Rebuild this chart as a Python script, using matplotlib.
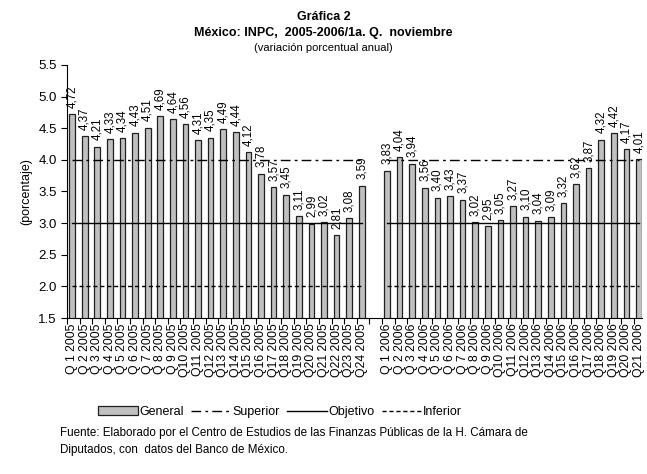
import numpy as np
import matplotlib
matplotlib.use("Agg")
import matplotlib.pyplot as plt
from matplotlib.patches import Patch
from matplotlib.lines import Line2D

plt.rcParams['font.family'] = ['Liberation Sans', 'DejaVu Sans']

# datos (variacion porcentual anual del INPC por quincena)
general_2005 = [4.72, 4.37, 4.21, 4.33, 4.34, 4.43, 4.51, 4.69, 4.64, 4.56, 4.31, 4.35,
                4.49, 4.44, 4.12, 3.78, 3.57, 3.45, 3.11, 2.99, 3.02, 2.81, 3.08, 3.59]
general_2006 = [3.83, 4.04, 3.94, 3.56, 3.40, 3.43, 3.37, 3.02, 2.95, 3.05, 3.27, 3.10,
                3.04, 3.09, 3.32, 3.62, 3.87, 4.32, 4.42, 4.17, 4.01]
superior = 4.0
objetivo = 3.0
inferior = 2.0

def qlabel(q, year):
    if q < 10:
        return "Q %d %d" % (q, year)
    return "Q%d %d" % (q, year)

labels = [qlabel(i + 1, 2005) for i in range(len(general_2005))] + [""] + \
         [qlabel(i + 1, 2006) for i in range(len(general_2006))]
values = general_2005 + [np.nan] + general_2006
x = np.arange(len(values))

fig = plt.figure(figsize=(6.47, 4.74), dpi=100)
ax = fig.add_axes([0.1036, 0.329, 0.888, 0.534])

ax.bar(x, values, width=0.45, color="#c0c0c0", edgecolor="#202020", linewidth=0.9, zorder=2)

# lineas de referencia, cortadas en el hueco entre 2005 y 2006
def ref_line(v):
    return [v] * len(general_2005) + [np.nan] + [v] * len(general_2006)

ax.plot(x, ref_line(superior), color="black", lw=1.0, linestyle=(0, (7, 3, 2, 3)), zorder=3)
ax.plot(x, ref_line(objetivo), color="black", lw=1.0, linestyle="-", zorder=3)
ax.plot(x, ref_line(inferior), color="black", lw=1.0, linestyle=(0, (3, 2)), zorder=3)

for xi, v in zip(x, values):
    if np.isnan(v):
        continue
    ax.text(xi, v + 0.1, ("%.2f" % v).replace(".", ","), rotation=90,
            ha="center", va="bottom", fontsize=8.3)

ax.set_xlim(-0.4, 45.2)
ax.set_ylim(1.5, 5.5)
ax.set_yticks(np.arange(1.5, 5.51, 0.5))
ax.set_yticklabels(["%.1f" % t for t in np.arange(1.5, 5.51, 0.5)], fontsize=9.5)
ax.set_xticks(x)
ax.set_xticklabels(labels, rotation=90, fontsize=8.8)
ax.tick_params(axis="x", length=0, pad=4)
ax.set_xticks(x - 0.4, minor=True)
ax.tick_params(axis="x", which="minor", length=4, width=0.8)
ax.tick_params(axis="y", length=4, width=0.8)
ax.spines["top"].set_visible(False)
ax.spines["right"].set_visible(False)
ax.set_ylabel("(porcentaje)", fontsize=9)

fig.text(0.5, 0.965, "Gráfica 2", ha="center", va="center", fontsize=9, fontweight="bold")
fig.text(0.5, 0.931, "México: INPC,  2005-2006/1a. Q.  noviembre", ha="center", va="center",
         fontsize=9, fontweight="bold")
fig.text(0.5, 0.899, "(variación porcentual anual)", ha="center", va="center", fontsize=8)

handles = [Patch(facecolor="#c0c0c0", edgecolor="#202020", linewidth=0.9),
           Line2D([], [], color="black", lw=1.0, linestyle=(0, (7, 3, 2, 3))),
           Line2D([], [], color="black", lw=1.0),
           Line2D([], [], color="black", lw=1.0, linestyle=(0, (3, 2)))]
fig.legend(handles, ["General", "Superior", "Objetivo", "Inferior"], ncol=4,
           loc="center", bbox_to_anchor=(280 / 647, 1 - 412 / 474), frameon=False,
           fontsize=9, handlelength=3.2, handletextpad=0.1, columnspacing=0.6,
           handleheight=0.7)

fig.text(60 / 647, 1 - 433 / 474,
         "Fuente: Elaborado por el Centro de Estudios de las Finanzas Públicas de la H. Cámara de",
         ha="left", va="center", fontsize=8.4)
fig.text(60 / 647, 1 - 450 / 474, "Diputados, con  datos del Banco de México.",
         ha="left", va="center", fontsize=8.4)

fig.savefig("out.png", dpi=100)
